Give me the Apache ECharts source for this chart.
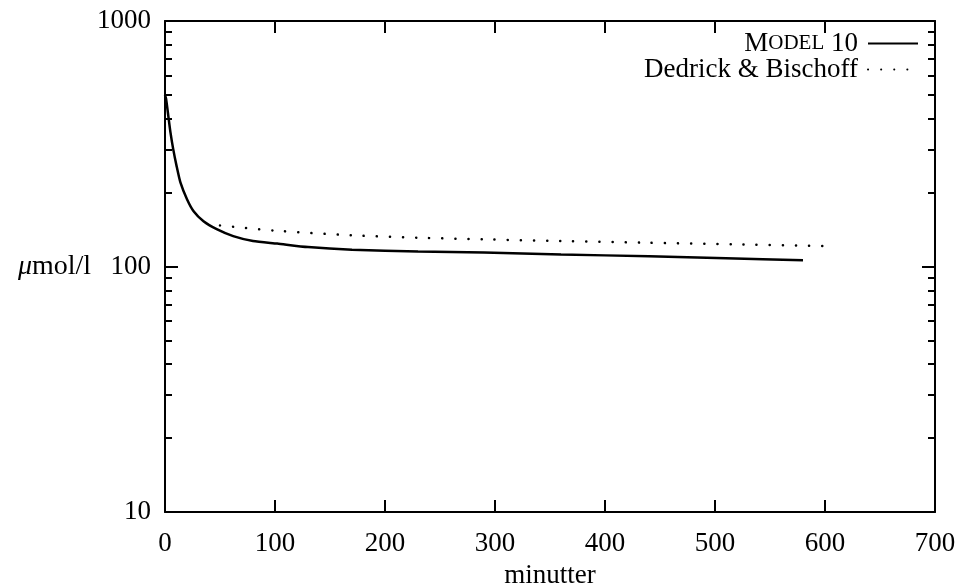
<!DOCTYPE html>
<html>
<head>
<meta charset="utf-8">
<script src="https://cdn.jsdelivr.net/npm/echarts@6/dist/echarts.min.js"></script>
<style>
  html, body { margin: 0; padding: 0; background: #fff; }
  #chart { width: 972px; height: 585px; }
</style>
</head>
<body>
<div id="chart"></div>
<script>
// minutter -> µmol/l
const modelT = [0, 1, 3, 5, 7.5, 10.5, 14, 20, 26, 35, 47, 62, 80, 102, 130, 170, 230, 290, 360, 440, 510, 580];
const modelV = [500, 481, 411, 351, 300, 257, 220, 188, 168, 153, 142, 133, 127, 124, 120, 117, 115, 114, 112, 110, 108, 106];
const dedT = [50, 100, 170, 230, 290, 360, 435, 520, 605];
const dedV = [147, 140, 134, 131, 129, 127, 125, 123, 121];

const xTicks = [0, 100, 200, 300, 400, 500, 600, 700];
const yMajor = [10, 100, 1000];
const yMinor = [20, 30, 40, 50, 60, 70, 80, 90, 200, 300, 400, 500, 600, 700, 800, 900];

const FONT = 'Liberation Serif';
const INK = '#000';

const pairs = (xs, ys) => xs.map((x, i) => [x, ys[i]]);

function xAx(pos, labels) {
  return {
    type: 'value', position: pos, min: 0, max: 700, interval: 100,
    axisLine: { show: true, onZero: false, lineStyle: { color: INK, width: 2 } },
    axisTick: { show: true, inside: true, length: 12, lineStyle: { color: INK, width: 2 } },
    axisLabel: { show: labels, color: INK, fontFamily: FONT, fontSize: 27, margin: 18 },
    splitLine: { show: false },
    name: labels ? 'minutter' : '', nameLocation: 'middle', nameGap: 50,
    nameTextStyle: { color: INK, fontFamily: FONT, fontSize: 27 },
  };
}

function yAx(pos, ticks, len, labels, line) {
  return {
    type: 'log', logBase: 10, min: 10, max: 1000, position: pos,
    axisLine: { show: line, onZero: false, lineStyle: { color: INK, width: 2 } },
    axisTick: { show: true, inside: true, length: len, customValues: ticks, lineStyle: { color: INK, width: 2 } },
    axisLabel: {
      show: labels, customValues: yMajor, color: INK, fontFamily: FONT, fontSize: 27, margin: 14,
      formatter: (v) => String(Math.round(v)),
    },
    splitLine: { show: false },
    name: labels ? '{i|μ}mol/l' : '', nameLocation: 'middle', nameRotate: 0, nameGap: 72,
    nameTextStyle: {
      color: INK, fontFamily: FONT, fontSize: 28,
      rich: { i: { fontFamily: FONT, fontSize: 28, fontStyle: 'italic', color: INK } },
    },
  };
}

const chart = echarts.init(document.getElementById('chart'), null, { renderer: 'canvas' });
chart.setOption({
  animation: false,
  grid: { left: 165, right: 37, top: 21, bottom: 73, outerBoundsMode: 'none', containLabel: false },
  xAxis: [xAx('bottom', true), xAx('top', false)],
  yAxis: [
    yAx('left', yMajor, 13, true, true),
    yAx('left', yMinor, 7, false, false),
    yAx('right', yMajor, 13, false, true),
    yAx('right', yMinor, 7, false, false),
  ],
  legend: {
    orient: 'vertical', right: 48, top: 25, align: 'right',
    itemWidth: 50, itemHeight: 20, itemGap: -1,
    data: ['Model 10', 'Dedrick & Bischoff'],
    formatter: (n) => n === 'Model 10' ? '{a|M}{b|ODEL}{a| 10}' : n,
    itemStyle: { opacity: 0 },
    textStyle: {
      color: INK, fontFamily: FONT, fontSize: 27, padding: [0, 5, 0, 0], lineHeight: 22,
      rich: {
        a: { fontFamily: FONT, fontSize: 27, color: INK, lineHeight: 22 },
        b: { fontFamily: FONT, fontSize: 21, color: INK, lineHeight: 22 },
      },
    },
  },
  series: [
    {
      name: 'Model 10', type: 'line', smooth: 0.2, showSymbol: false, symbol: 'none',
      xAxisIndex: 0, yAxisIndex: 0,
      lineStyle: { color: INK, width: 2.5 },
      itemStyle: { color: INK },
      data: pairs(modelT, modelV),
    },
    {
      name: 'Dedrick & Bischoff', type: 'line', smooth: 0.3, showSymbol: false, symbol: 'none',
      xAxisIndex: 0, yAxisIndex: 0,
      lineStyle: { color: INK, width: 2.5, type: [0.1, 13], cap: 'round' },
      itemStyle: { color: INK },
      data: pairs(dedT, dedV),
    },
  ],
});
</script>
</body>
</html>
